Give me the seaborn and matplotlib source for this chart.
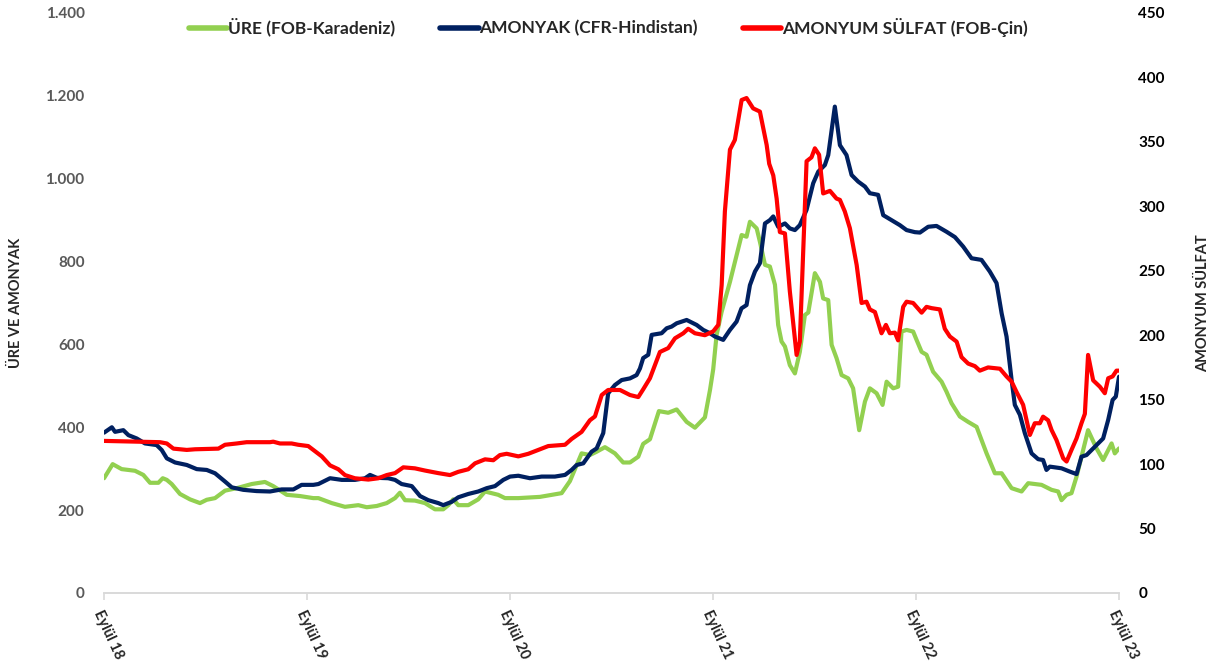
import matplotlib
matplotlib.use("Agg")
import matplotlib.pyplot as plt
import seaborn as sns
import pandas as pd
from matplotlib.lines import Line2D

# x = months since Eylül 2018
ure_month = [0, 0.51, 1.04, 1.83, 2.32, 2.72, 3.21, 3.47, 3.71, 4.0, 4.49, 5.08, 5.67, 6.07,
             6.56, 7.15, 7.84, 8.73, 9.51, 10.0, 10.8, 11.58, 12.37, 12.67, 13.46, 14.24,
             15.03, 15.53, 16.12, 16.71, 17.2, 17.49, 17.79, 18.38, 18.97, 19.56, 20.05,
             20.35, 20.64, 20.94, 21.53, 22.12, 22.52, 22.91, 23.3, 23.7, 24.49, 25.77,
             27.05, 27.54, 28.23, 28.72, 29.12, 29.61, 30.2, 30.69, 31.09, 31.58, 31.87,
             32.27, 32.8, 33.35, 33.85, 34.44, 34.93, 35.52, 35.82, 36.01, 36.21, 36.51,
             37.0, 37.69, 37.98, 38.18, 38.58, 38.77, 39.07, 39.36, 39.66, 39.85, 40.05,
             40.25, 40.54, 40.84, 41.13, 41.43, 41.63, 42.02, 42.32, 42.51, 42.81, 43.01,
             43.3, 43.6, 43.99, 44.28, 44.64, 44.98, 45.27, 45.67, 46.02, 46.26, 46.65,
             46.94, 47.14, 47.44, 47.83, 48.03, 48.33, 48.62, 49.01, 49.51, 49.8, 50.1,
             50.59, 51.08, 51.58, 52.17, 52.66, 53.06, 53.65, 54.24, 54.63, 55.42, 56.01,
             56.4, 56.6, 56.9, 57.19, 57.49, 58.17, 58.67, 59.06, 59.56, 59.75, 60.0]
ure_value = [277, 311, 299, 295, 285, 266, 266, 277, 273, 263, 239, 226, 217, 225,
             229, 247, 253, 263, 268, 258, 237, 234, 229, 229, 217, 208,
             212, 207, 210, 217, 229, 242, 224, 223, 217, 202, 202,
             212, 226, 212, 212, 226, 245, 241, 237, 229, 229, 232,
             241, 270, 337, 333, 341, 352, 337, 315, 315, 329, 360,
             371, 439, 435, 443, 413, 399, 424, 490, 540, 623, 679,
             751, 864, 860, 896, 880, 848, 792, 788, 744, 647, 607,
             595, 550, 530, 582, 671, 677, 772, 751, 711, 707, 599,
             567, 526, 518, 494, 393, 462, 494, 482, 454, 510, 494,
             498, 631, 635, 631, 611, 582, 575, 534, 510, 486, 458,
             426, 413, 401, 337, 289, 289, 253, 245, 265, 261, 249,
             245, 224, 237, 241, 281, 393, 349, 321, 361, 337, 349]

amonyak_month = [0, 0.46, 0.65, 1.14, 1.44, 1.93, 2.42, 3.11, 3.41, 3.71, 4.2, 4.89, 5.48,
                 6.07, 6.56, 7.15, 7.55, 8.23, 9.02, 9.81, 10.5, 11.19, 11.68, 12.37, 12.67,
                 13.36, 14.05, 14.83, 15.43, 15.72, 16.12, 16.8, 17.2, 17.59, 18.19, 18.68,
                 19.17, 19.76, 20.05, 20.55, 20.94, 21.53, 22.12, 22.62, 23.11, 23.6, 24.0,
                 24.49, 25.18, 25.87, 26.65, 27.25, 27.64, 27.94, 28.33, 28.82, 29.12, 29.51,
                 29.8, 30.2, 30.6, 31.09, 31.48, 31.68, 31.87, 32.17, 32.37, 32.96, 33.26,
                 33.55, 33.85, 34.44, 35.03, 35.42, 35.82, 36.11, 36.6, 37.0, 37.39, 37.68,
                 37.98, 38.18, 38.48, 38.77, 39.07, 39.36, 39.56, 39.85, 40.25, 40.54, 40.84,
                 41.13, 41.53, 41.92, 42.22, 42.61, 42.81, 43.2, 43.5, 43.89, 44.19, 44.58,
                 44.98, 45.27, 45.76, 46.06, 46.55, 47.04, 47.44, 47.93, 48.23, 48.72, 49.21,
                 49.8, 50.3, 50.79, 51.28, 51.87, 52.36, 52.76, 53.06, 53.35, 53.65, 53.84,
                 54.14, 54.43, 54.83, 55.22, 55.51, 55.71, 55.91, 56.6, 57.09, 57.49, 57.78,
                 58.08, 58.57, 59.06, 59.36, 59.62, 59.81, 60.0]
amonyak_value = [387, 400, 389, 393, 381, 373, 361, 357, 345, 325, 315, 309, 299,
                 297, 289, 269, 255, 249, 246, 245, 250, 250, 261, 261, 263,
                 277, 273, 273, 277, 285, 278, 277, 273, 263, 258, 234,
                 224, 217, 212, 220, 231, 239, 245, 253, 258, 273, 281,
                 283, 277, 281, 281, 285, 297, 309, 313, 341, 349, 386,
                 482, 502, 514, 518, 526, 542, 567, 575, 623, 627, 639,
                 643, 651, 659, 647, 635, 627, 619, 611, 635, 655, 687,
                 695, 743, 776, 796, 892, 900, 909, 884, 892, 880, 876,
                 888, 925, 989, 1017, 1033, 1057, 1174, 1081, 1057, 1009, 993,
                 981, 965, 961, 912, 900, 888, 876, 871, 870, 884, 886,
                 872, 859, 836, 808, 804, 776, 748, 675, 619, 514, 454,
                 430, 386, 337, 323, 321, 297, 305, 301, 293, 287, 329,
                 333, 353, 373, 418, 466, 474, 522]

sulfat_month = [0, 3.31, 3.71, 4.1, 4.89, 5.38, 6.76, 7.15, 7.84, 8.43, 9.81, 10.0, 10.4,
                11.09, 11.48, 12.07, 12.37, 12.87, 13.36, 13.85, 14.24, 14.83, 15.62, 16.21,
                16.71, 17.2, 17.69, 18.38, 18.97, 19.76, 20.45, 20.94, 21.53, 21.93, 22.52,
                23.01, 23.4, 23.8, 24.49, 25.08, 25.67, 26.26, 27.25, 27.64, 28.23, 28.72,
                29.02, 29.42, 29.8, 30.5, 31.09, 31.58, 31.87, 32.27, 32.86, 33.35, 33.75,
                34.24, 34.53, 34.93, 35.52, 36.01, 36.31, 36.51, 36.7, 37.0, 37.29, 37.69,
                37.98, 38.37, 38.77, 39.17, 39.32, 39.56, 39.76, 39.95, 40.25, 40.54, 40.94,
                41.13, 41.33, 41.53, 41.82, 42.02, 42.27, 42.51, 42.91, 43.3, 43.5, 43.79,
                44.09, 44.49, 44.78, 45.07, 45.27, 45.57, 45.96, 46.22, 46.45, 46.75, 46.94,
                47.24, 47.44, 47.83, 48.33, 48.62, 48.92, 49.41, 49.7, 50.0, 50.4, 50.69,
                51.08, 51.48, 51.77, 52.26, 52.96, 53.35, 53.65, 53.94, 54.33, 54.73, 55.02,
                55.32, 55.51, 55.81, 56.01, 56.3, 56.7, 56.9, 57.19, 57.49, 57.78, 57.98,
                58.17, 58.47, 58.87, 59.16, 59.36, 59.62, 59.85, 60.0]
sulfat_value = [118, 117, 116, 112, 111, 111.5, 112, 115, 116, 117, 117, 117.4, 116,
                116, 115, 114, 111, 106, 99, 96, 91.5, 89, 88, 89,
                91.5, 93, 97.5, 96.7, 95, 93, 91.5, 94, 96, 100.6, 103.7,
                103, 107, 108, 106, 108, 111, 114, 115, 119.5, 125, 134,
                137, 153.6, 157.5, 157.5, 153.6, 152, 158, 166.6, 187, 190, 197.6,
                201.5, 205, 201.5, 200, 203, 208, 239, 296, 344, 351.5, 382.5,
                384, 376, 373.5, 347.6, 333, 324, 306, 280, 279, 234, 184.7,
                195, 265, 335, 338, 345, 340, 310, 312, 306, 305, 296,
                283, 254.5, 225, 226, 220, 218, 201.5, 208, 201.5, 202, 196,
                222, 226, 225, 217.5, 222, 221, 220, 205, 199, 195, 183,
                178, 176, 172.5, 175, 174, 168, 164, 156, 146, 122.6, 131.7,
                131.7, 136.8, 134, 126.5, 118.7, 104.5, 102, 111, 120, 131.7, 139,
                184.7, 165, 160, 155, 166.6, 168, 172.5, 172.5]

year_ticks = [0, 12, 24, 36, 48, 60]
year_labels = ["Eylül 18", "Eylül 19", "Eylül 20", "Eylül 21", "Eylül 22", "Eylül 23"]
left_ticks = [0, 200, 400, 600, 800, 1000, 1200, 1400]
left_labels = ["0", "200", "400", "600", "800", "1.000", "1.200", "1.400"]
right_ticks = [0, 50, 100, 150, 200, 250, 300, 350, 400, 450]

GREEN = "#92D050"
NAVY = "#002060"
RED = "#FF0000"

sns.set_theme(style="white")
plt.rcParams["font.family"] = ["Lato", "DejaVu Sans"]

ure = pd.DataFrame({"ay": ure_month, "deger": ure_value})
amonyak = pd.DataFrame({"ay": amonyak_month, "deger": amonyak_value})
sulfat = pd.DataFrame({"ay": sulfat_month, "deger": sulfat_value})

fig = plt.figure(figsize=(12.17, 6.63), dpi=100)
ax = fig.add_axes([0.0855, 0.1056, 0.834, 0.8748])
ax2 = ax.twinx()

sns.lineplot(data=ure, x="ay", y="deger", color=GREEN, lw=3, estimator=None, ax=ax)
sns.lineplot(data=amonyak, x="ay", y="deger", color=NAVY, lw=3, estimator=None, ax=ax)
sns.lineplot(data=sulfat, x="ay", y="deger", color=RED, lw=3, estimator=None, ax=ax2)

ax.set_xlim(0, 60)
ax.set_ylim(0, 1400)
ax2.set_ylim(0, 450)

ax.set_yticks(left_ticks)
ax.set_yticklabels(left_labels, color="#595959", fontsize=11, fontweight="bold")
ax2.set_yticks(right_ticks)
ax2.set_yticklabels([str(t) for t in right_ticks], color="black", fontsize=11, fontweight="bold")

ax.set_xticks(year_ticks)
ax.set_xticklabels(year_labels, rotation=-65, ha="left", va="top",
                   rotation_mode="anchor", fontsize=10.5, fontweight="bold")

ax.set_xlabel("")
ax.set_ylabel("ÜRE VE AMONYAK", fontsize=10.5, fontweight="bold", labelpad=16)
ax2.set_xlabel("")
ax2.set_ylabel("AMONYUM SÜLFAT", fontsize=10.5, fontweight="bold", labelpad=22)

for a in (ax, ax2):
    for side in ("left", "right", "top"):
        a.spines[side].set_visible(False)
    a.spines["bottom"].set_color("#D9D9D9")
    a.spines["bottom"].set_linewidth(1.2)
    a.grid(False)
ax.tick_params(axis="x", bottom=True, length=5, color="#D9D9D9", width=1.2, pad=6)
ax.tick_params(axis="y", left=False, pad=8)
ax2.tick_params(axis="y", right=False, pad=8)

handles = [Line2D([], [], color=GREEN, lw=4),
           Line2D([], [], color=NAVY, lw=4),
           Line2D([], [], color=RED, lw=4)]
fig.legend(handles, ["ÜRE (FOB-Karadeniz)", "AMONYAK (CFR-Hindistan)", "AMONYUM SÜLFAT (FOB-Çin)"],
           loc="center", bbox_to_anchor=(0.5, 0.959), ncol=3, frameon=False,
           prop={"size": 12.5, "weight": "bold"}, handlelength=2.2, handletextpad=0.05,
           columnspacing=2.6)

fig.savefig("out.png", dpi=100)
